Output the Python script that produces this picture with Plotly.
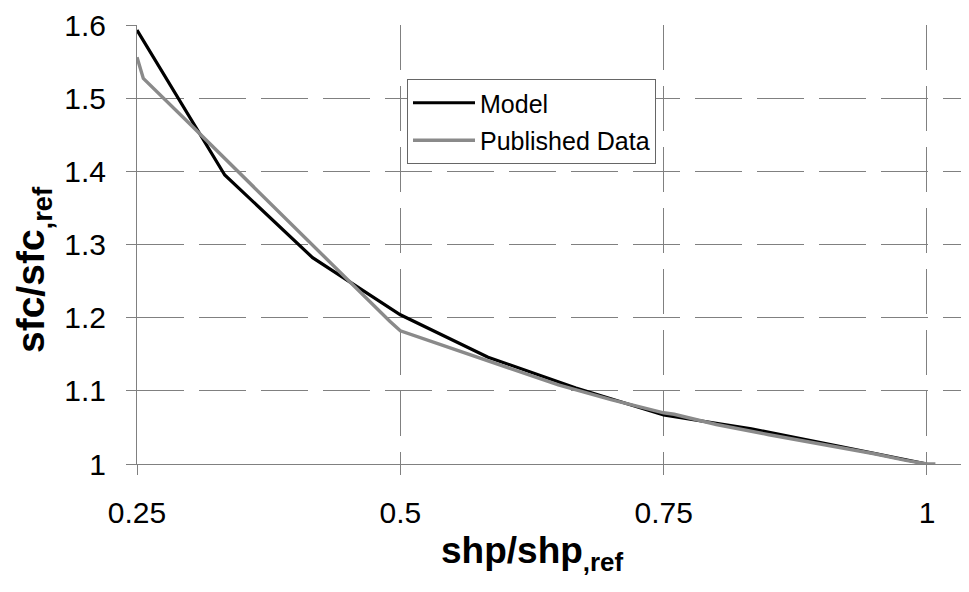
import plotly.graph_objects as go

# Model curve (black)
model_x = [0.25, 0.3333, 0.4167, 0.5, 0.5833, 0.6667, 0.75, 0.8333, 0.9167, 1.0]
model_y = [1.593, 1.395, 1.282, 1.204, 1.146, 1.104, 1.067, 1.048, 1.024, 1.0]

# Published data (gray)
pub_x = [0.25, 0.256, 0.30, 0.35, 0.40, 0.45, 0.49, 0.50, 0.55, 0.60, 0.65,
         0.70, 0.75, 0.76, 0.80, 0.85, 0.90, 0.95, 0.98, 1.0, 1.008]
pub_y = [1.556, 1.527, 1.465, 1.394, 1.323, 1.251, 1.195, 1.182, 1.157, 1.132, 1.108,
         1.088, 1.070, 1.068, 1.054, 1.040, 1.027, 1.014, 1.005, 1.0, 1.0]

x_ticks = [0.25, 0.5, 0.75, 1.0]
x_tick_labels = ["0.25", "0.5", "0.75", "1"]
y_ticks = [1.0, 1.1, 1.2, 1.3, 1.4, 1.5, 1.6]
y_tick_labels = ["1", "1.1", "1.2", "1.3", "1.4", "1.5", "1.6"]

FONT = "Arial, Liberation Sans, sans-serif"
GRID = "#808080"

# page body has an 8px margin; plot area aims at screen px left 137, top 25, bottom 464
L, T, PH, PW = 129, 17, 439, 832
W, H = L + PW, 584

fig = go.Figure()
fig.add_trace(go.Scatter(x=model_x, y=model_y, mode="lines", name="Model",
                         line=dict(color="#000000", width=3.2),
                         legendgroup="a"))
fig.add_trace(go.Scatter(x=pub_x, y=pub_y, mode="lines", name="Published Data",
                         line=dict(color="#8a8a8a", width=3.4),
                         legendgroup="b"))

fig.update_layout(
    width=W, height=H,
    margin=dict(l=L, r=0, t=T, b=H - T - PH),
    plot_bgcolor="white", paper_bgcolor="white",
    font=dict(family=FONT, color="black"),
    legend=dict(x=(399 - L) / PW, y=(T + PH - 71) / PH, xanchor="left", yanchor="top",
                bgcolor="white", bordercolor="#666666", borderwidth=1,
                font=dict(size=25, family=FONT, color="black"),
                itemwidth=62,
                traceorder="grouped", tracegroupgap=2),
    xaxis=dict(
        range=[0.25, 0.25 + PW / 1053.3],
        tickvals=x_ticks, ticktext=x_tick_labels,
        showgrid=True, gridcolor=GRID, gridwidth=1, griddash="45px,16px",
        showline=True, linecolor=GRID, linewidth=1,
        ticks="outside", ticklen=10, tickcolor=GRID,
        tickfont=dict(size=30, family=FONT, color="black"),
        ticklabelstandoff=12,
        zeroline=False,
    ),
    yaxis=dict(
        range=[1.0, 1.6],
        tickvals=y_ticks, ticktext=y_tick_labels,
        showgrid=True, gridcolor=GRID, gridwidth=1, griddash="47px,15px",
        showline=True, linecolor=GRID, linewidth=1,
        ticks="outside", ticklen=10, tickcolor=GRID,
        tickfont=dict(size=30, family=FONT, color="black"),
        ticklabelstandoff=14,
        zeroline=False,
    ),
    annotations=[
        dict(text="<b>shp/shp<sub>,ref</sub></b>", xref="paper", yref="paper",
             x=(524 - L) / PW, y=(T + PH - 545) / PH, xanchor="center", yanchor="middle",
             showarrow=False, font=dict(size=37, family=FONT, color="black")),
        dict(text="<b>sfc/sfc<sub>,ref</sub></b>", xref="paper", yref="paper",
             x=(25 - L) / PW, y=(T + PH - 262) / PH, xanchor="center", yanchor="middle",
             textangle=-90, showarrow=False, font=dict(size=39, family=FONT, color="black")),
    ],
)

fig.write_html("out.html", config={"displayModeBar": False})
